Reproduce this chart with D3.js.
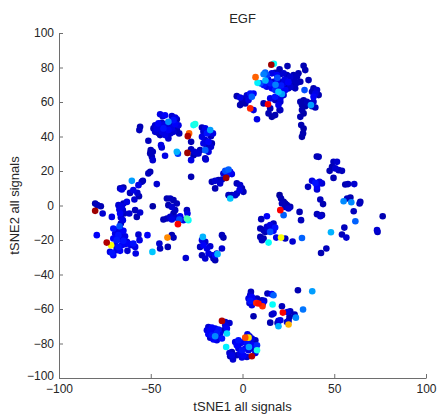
<!DOCTYPE html>
<html>
<head>
<meta charset="utf-8">
<script src="https://cdn.jsdelivr.net/npm/d3@7"></script>
<style>
  body { margin: 0; background: #fff; }
  svg text { font-family: "Liberation Sans", Arial, sans-serif; fill: #262626; }
</style>
</head>
<body>
<div id="chart"></div>
<script>
// tSNE coordinates per island, [tsne1, tsne2, signal]
var clusterA = [[15.7,81.6,0.97],[17.1,82.2,0.38],[24.5,80.8,0.05],[20.2,78.9,0.05],[33.3,81,0.05],[34.2,78.5,0.05],[7.1,74.4,0.78],
  [12.4,77.1,0.22],[13.3,75.6,0.18],[11.5,76.1,0.25],
  [16,76.6,0.1],[17.8,76.9,0.06],[18.8,75.6,0.12],[20.6,76.1,0.06],[22.4,76.6,0.08],[24.2,75.6,0.05],[26,74.6,0.08],[27.8,75.6,0.05],[29.7,74.6,0.06],[30.5,76.6,0.05],
  [8.2,71.1,0.36],[14,73,0.1],[19,74,0.2],[23,73,0.1],[28,72.5,0.06],[25,71.5,0.12],[21,69.5,0.15],[18,70,0.25],[12.5,72.5,0.3],
  [9.7,70.8,0.2],[11.5,69.8,0.14],[13.3,68.8,0.1],[15.1,70.8,0.15],[16.9,71.7,0.08],[18.8,72.7,0.12],[20.6,71.7,0.06],[22.4,70.8,0.1],[24.2,69.8,0.05],[26,68.8,0.08],[27.8,69.8,0.05],[29.7,71.1,0.06],[31.5,71.7,0.05],
  [36,72.7,0.05],
  [16,67.9,0.12],[17.8,66.9,0.16],[19.6,68.8,0.1],[21.5,67.9,0.08],[23.3,66.9,0.12],[25.1,67.9,0.06],[27,68.8,0.05],[28.7,67.9,0.06],
  [19.6,65.9,0.32],[21.5,64.6,0.28],[17.8,63,0.14],[20.6,62.1,0.1],[22.4,64,0.08],
  [33.8,66.9,0.2],
  [38.7,67.9,0.05],[40.6,66.9,0.08],[39.7,64.9,0.1],[37.9,65.9,0.06],[41.5,64,0.05],[38.7,63,0.12],
  [31.5,60.1,0.05],[33.3,61,0.04],[35.1,60.1,0.06],[36.9,59.2,0.05],[38.7,60.1,0.08],[32.4,58.2,0.05],[34.2,57.6,0.04],[36,58.7,0.06],[37.9,57.6,0.05],[39.7,56.8,0.06],
  [37.3,58.2,0.28],
  [32.4,55.3,0.05],[33.3,53.4,0.04],[31.5,51.4,0.05],
  [32,46.6,0.05],[33.3,44.6,0.04],[33,41.8,0.05],[32.4,39.8,0.04],
  [-3.1,63.4,0.05],[-1.3,62.6,0.1],[0.5,62,0.06],[-0.3,60.1,0.05],[2.4,63.9,0.08],[4.2,64.9,0.14],[6,64.9,0.12],[5.1,63,0.22],[3.3,61.1,0.1],[1.5,59.2,0.05],[-1.3,58.2,0.05],
  [13.9,58.7,0.88],[4.2,56.3,0.84],[6,55.3,0.1],[7.9,50,0.1],
  [11.5,59.2,0.05],[15.1,62.1,0.1],[17.8,61.1,0.06],[20.6,60.1,0.08],[19.6,58.2,0.1],[20.2,55.3,0.05],[15.1,56.3,0.05],[14.2,53.4,0.05],[16,51.4,0.04],[17.8,52.4,0.05],[20.6,55.3,0.06]];

var clusterB = [[-44.9,52.9,0.1],[-43.5,51.8,0.08],[-42.2,52.3,0.12],
  [-38.5,51.8,0.08],[-36.7,51,0.1],[-35.8,49.9,0.06],[-37.6,49.5,0.14],[-40.4,48.5,0.26],
  [-47.6,46.5,0.08],[-45.8,47.6,0.12],[-44,47.9,0.06],[-42.2,47.2,0.1],[-39.4,46.5,0.08],[-36.7,47.2,0.12],[-34.9,46.5,0.1],
  [-48.5,44.7,0.06],[-46.7,44.7,0.1],[-44.9,45.2,0.08],[-43.1,44.7,0.14],[-41.2,45.6,0.06],[-38.5,44.7,0.1],[-35.8,44.1,0.06],
  [-47.6,42.7,0.08],[-45.8,42.1,0.05],[-44,42.7,0.1],[-42.2,43.3,0.06],[-40.4,43.7,0.12],[-37.6,42.7,0.08],
  [-44.9,40.8,0.06],[-42.2,40.8,0.1],[-34.5,41.8,0.06],[-39.4,41.8,0.08],
  [-55.8,45.6,0.05],[-56.2,43.7,0.06],
  [-40.4,38.9,0.08],[-51.3,37.5,0.06],[-44.4,35,0.1],[-44,33.6,0.08],
  [-50,32.1,0.05],[-48.9,31.1,0.06],[-50.3,30.2,0.05],[-49.4,28.2,0.06],[-48.9,26.3,0.08],
  [-42.2,28.8,0.1],[-35.8,31.1,0.3],[-35.2,30,0.18],[-30,30.5,0.97],
  [-28,32.6,0.06],[-26.2,31.1,0.08],[-26.7,29.2,0.05],[-28,26.3,0.1],[-25.4,30.2,0.06],[-20,26.7,0.08],
  [-26.7,46.6,0.38],[-25.8,47.2,0.4],[-29.1,41.8,0.78],[-29.8,40.2,0.95],[-28,36.9,0.05],
  [-22.1,45.2,0.06],[-20.3,44.7,0.1],[-17.6,43.7,0.28],[-16.1,41.8,0.1],[-21.3,42.7,0.08],[-19.4,41.8,0.14],[-17.2,40.2,0.06],[-22.1,39.8,0.1],[-20.3,37.9,0.08],[-18.5,36.9,0.12],[-16.7,36,0.05],[-21.3,36,0.1],[-19.4,34,0.06],[-17.2,34,0.08],[-20.3,32.1,0.22],[-18.5,31.1,0.1],[-23.1,32.1,0.06],[-24,30.2,0.08],[-20.3,27.3,0.06],
  [-51.3,18.6,0.06],[-50.3,19.5,0.05],[-54.3,14.3,0.06],[-46.7,12.4,0.08],[-28,16.6,0.05],[-60.3,14.3,0.28],[-66.7,9.9,0.06],[-64.9,10.4,0.05]];

var clusterC = [[-80.3,1.2,0.05],[-79.1,0.2,0.06],[-77.2,-0.4,0.05],[-80.3,-3.1,0.97],[-76.2,-4.6,0.08],
  [-65.8,9.3,0.1],[-59.5,8.9,0.1],[-61.3,7.3,0.06],[-57.3,7.3,0.08],[-56.4,5.4,0.05],[-58.9,3.5,0.08],[-54.9,13.7,0.06],[-56.7,11.8,0.1],
  [-67.6,0.2,0.08],[-65.8,-0.4,0.1],[-64.9,1.2,0.06],[-67.1,-2.3,0.1],[-65.2,-2.7,0.08],[-66.7,-4.6,0.12],[-64.5,-4.6,0.06],[-66.3,-7,0.08],[-65.2,-8.5,0.1],[-66.3,-10.4,0.06],
  [-71.2,-6.6,0.1],[-61.7,-4.6,0.08],[-58.5,-2.7,0.06],[-55.8,-4.1,0.08],[-57.6,-6.6,0.05],[-48.9,-0.4,0.04],[-63,2.1,0.1],
  [-70.4,-13.3,0.14],[-68.5,-14.3,0.1],[-66.7,-13.3,0.08],[-64.9,-14.7,0.12],[-69.4,-16.2,0.1],[-67.6,-17.2,0.14],[-65.8,-16.6,0.08],[-64,-17.8,0.1],[-70.4,-19.1,0.12],[-68.5,-20.1,0.15],[-66.7,-19.7,0.1],[-64.9,-20.5,0.14],[-63,-21.1,0.08],[-69.4,-23,0.1],[-67.6,-24,0.14],[-65.8,-23,0.12],[-64,-22.4,0.1],[-68.7,-25.9,0.1],[-66.7,-26.3,0.12],[-71.1,-27.5,0.14],[-72.2,-26.9,0.1],[-70.4,-28.8,0.12],
  [-62.2,-22,0.12],[-60.9,-23,0.1],[-59.5,-22,0.14],[-58.5,-24,0.1],[-62.7,-26.3,0.08],[-58.2,-27.8,0.1],
  [-56.7,-16.9,0.08],[-56.1,-20.1,0.1],[-51.8,-17.2,0.12],[-79.4,-17.2,0.12],
  [-74,-21.5,0.95],[-71.6,-23,0.62],[-67,-12,0.2]];

var clusterD = [[-41.2,4.1,0.05],[-39.4,4.1,0.06],[-37.6,3.1,0.05],[-35.8,1.2,0.06],[-40.4,0.2,0.05],[-38.5,-0.8,0.08],[-36.7,-2.7,0.06],[-37.6,-4.6,0.05],[-39.4,-6.6,0.08],
  [-43.1,-8.1,0.05],[-41.2,-7.5,0.06],[-38.5,-8.1,0.1],[-36.2,-7,0.08],[-34,-6.2,0.12],[-34.4,-8.1,0.2],[-32.2,-8.5,0.1],
  [-30.3,-2.7,0.06],[-30,-4.6,0.1],[-30.3,-7.5,0.45],[-29.5,-8.5,0.38],[-35.2,-10.8,0.88],
  [-40.9,-18.6,0.74],[-38.5,-17.2,0.05],[-37.6,-18.6,0.06],[-45.3,-22,0.08],[-44.9,-24.9,0.06],[-40.7,-24,0.05],[-49.1,-26.9,0.32],[-30.9,-30.4,0.08]];

var clusterE = [[-21.6,-18.2,0.3],[-22.1,-20.1,0.1],[-20.3,-21.1,0.08],[-21.3,-23,0.12],[-23.1,-24,0.06],[-19.4,-24.9,0.1],[-17.6,-23.6,0.08],
  [-11.2,-17.2,0.06],[-10.4,-18.6,0.05],[-11.2,-24.9,0.08],
  [-22.1,-28.8,0.06],[-20.3,-30.7,0.08],[-18.5,-27.8,0.1],[-16.7,-28.8,0.06],[-14.9,-28.8,0.12],[-14,-27.8,0.08],[-15.8,-30.7,0.06],[-14.9,-31.7,0.05],[-13.6,-28.2,0.3]];

var clusterF = [[-9.4,20.1,0.2],[-7.6,20.9,0.22],[-6.7,19.5,0.12],[-5.8,18.2,0.1],[-10.4,18.5,0.08],[-8.5,17.6,0.14],[-8.9,16,0.97],
  [-16.7,13.7,0.06],[-14.9,14.3,0.08],[-13.1,14.7,0.05],[-11.2,15.1,0.06],[-12.2,12.8,0.08],[-14.9,9.9,0.05],
  [-3.1,12.8,0.06],[-1.3,11.8,0.08],[-0.3,9.9,0.05],[0.5,7.9,0.06],[-1.6,8.9,0.1],
  [-7.6,6,0.06],[-5.8,6,0.05],[-4,6,0.08],[-3.1,7,0.06],[-6.7,4.1,0.32]];

var clusterG = [[20.2,6,0.03],[21,4.1,0.05],[22.4,2.1,0.04],[21.5,1.2,0.06],[23.3,1.2,0.05],[24.2,0.2,0.05],[25.1,-1.7,0.08],[23.3,-0.8,0.06],[26,-0.8,0.05],
  [20.6,-2.7,0.88],[22.4,-5.6,0.22],[31.1,-3.7,0.05],[31.9,-8.5,0.06],[13.3,-6.2,0.12],[10.2,-7.9,0.06],
  [9.7,-13.3,0.05],[11.5,-14.3,0.06],[13.3,-12.4,0.08],[15.1,-11.4,0.1],[16.9,-10.5,0.06],[17.8,-12.8,0.14],[16,-13.3,0.1],[14.2,-14.3,0.08],[12.4,-15.3,0.05],[16.9,-14.7,0.12],[15.1,-15.3,0.2],
  [9.7,-18.2,0.05],[10.6,-20.1,0.06],[11.5,-19.1,0.05],
  [14.2,-21.5,0.38],[18.4,-18.6,0.1],[21,-18.6,0.62],[23.3,-19.1,0.06],[27.3,-20.9,0.08],[32.4,-18.8,0.22]];

var clusterH = [[41.5,28.2,0.06],[40.5,28.4,0.05],
  [49.6,25.3,0.06],[51.5,25.3,0.08],[48.8,22.4,0.05],[50.6,21.5,0.08],[52.4,20.5,0.06],[47.5,20.1,0.05],[54.2,20.1,0.06],[49.6,16,0.05],
  [37.9,14.3,0.1],[39.7,13.1,0.14],[42,13.7,0.1],[43.3,12.8,0.08],[35.7,10.8,0.06],[40.6,9.3,0.08],[40.6,10.8,0.12],
  [56,12.2,0.05],[57.5,12.4,0.06],[60.9,12.4,0.08],[42.4,3.5,0.06],[43.9,0.8,0.05],
  [55.1,2.5,0.26],[59.3,1.9,0.26],[57,4.1,0.06],[58.8,4.6,0.05],[63.8,1.2,0.06],[64.2,2.1,0.05],
  [60.6,-3.3,0.06],[76.4,-6.2,0.05],[40.6,-5,0.06],[42.4,-6.2,0.08],[43.3,-5.6,0.05],
  [61.5,-9.1,0.22],[55.5,-12.8,0.06],[48.2,-15.5,0.3],[54.2,-16.8,0.06],[56.6,-18.6,0.08],
  [73.3,-14.3,0.08],[73.6,-15.3,0.06],[45.7,-24.9,0.06],[42.8,-27.5,0.05]];

var clusterI = [[4.6,-50.1,0.06],[4.2,-52,0.08],[5.1,-53,0.12],[3.3,-53.9,0.1],[4.2,-55.3,0.14],[3.8,-56.5,0.08],[6,-54.9,0.1],[7.9,-53.9,0.06],[7,-55.9,0.12],[5.1,-57.8,0.1],
  [10.6,-54.9,0.05],[11.8,-55.3,0.08],[11.1,-56.8,0.12],[13.6,-51,0.06],[16,-51.4,0.12],[16.9,-52,0.22],
  [7.5,-56.5,0.84],[8.7,-56.8,0.86],[10.9,-58.4,0.83],[16.4,-57.4,0.38],
  [6,-64.2,0.05],[21.5,-58.4,0.06],[22,-62.1,0.88],[24.5,-61.7,0.1],[26,-61.3,0.06],[16.9,-62.6,0.08],[16,-63.2,0.06],
  [15.1,-67.9,0.05],[19.6,-66.9,0.08],[19.1,-68.1,0.06],[20.6,-66.5,0.1],
  [25.6,-64.6,0.05],[25.1,-66.9,0.06],[24.2,-67.5,0.08],[28.4,-63.2,0.06],[29.1,-65,0.26],
  [19.6,-70,0.3],[25.1,-69,0.7],[30.2,-49.1,0.05],[38,-49.7,0.28],[33,-60.3,0.24]];

var clusterJ = [[-18.6,-70.4,0.08],[-16.7,-70.8,0.12],[-14.9,-71.4,0.1],[-13.1,-71.9,0.14],[-19.4,-72.3,0.1],[-17.6,-72.7,0.12],[-15.8,-73.3,0.08],[-14,-73.9,0.15],[-12.2,-74.2,0.1],[-18.6,-74.6,0.12],[-16.7,-75.2,0.14],[-14.9,-75.8,0.26],[-13.1,-76.2,0.1],[-15.8,-77.7,0.12],[-14,-78.1,0.1],[-11.2,-77.1,0.14],[-17.6,-76.6,0.08],[-10.4,-72.3,0.06],
  [-11.2,-66.9,0.95],[-9.4,-67.5,0.08],[-8.2,-68.4,0.06],[-7.1,-68.1,0.08],[-9.4,-69.4,0.1],[-8.5,-71.3,0.12],[-8.5,-74.2,0.34],[-8.9,-82,0.36],
  [-5.8,-84.9,0.06],[-7.1,-85.5,0.08],[-6.7,-87.4,0.05],[-5.2,-89.3,0.08],[-5.8,-86.8,0.1],
  [-4,-79.1,0.1],[-2.2,-78.1,0.14],[-3.1,-81,0.12],[-1.3,-80,0.1],[0.5,-79.1,0.12],[2.4,-80,0.14],[4.2,-79.1,0.1],[6,-81,0.12],[7.9,-81,0.16],[-2.2,-82.9,0.1],[-0.3,-83.9,0.14],[1.5,-82.9,0.12],[3.3,-83.9,0.1],[5.1,-82.9,0.08],[-1.3,-85.8,0.1],[0.5,-86.8,0.12],[-3.1,-86.8,0.06],[-0.3,-88.1,0.1],[2.4,-87.8,0.08],[3.5,-82,0.28],
  [2.7,-74.7,0.1],[3.8,-75.8,0.08],[1.5,-76.6,0.8],[3.3,-76.6,0.65],[5.1,-77.1,0.1],[7,-78.1,0.06],[7.9,-83.9,0.4],[5.1,-87.4,0.95],[7,-85.5,0.1]];

var xTicks = [-100, -50, 0, 50, 100];
var yTicks = [-100, -80, -60, -40, -20, 0, 20, 40, 60, 80, 100];
var jetStops = [0, 0.125, 0.375, 0.625, 0.875, 1];
var jetColors = ["#00007f", "#0000ff", "#00ffff", "#ffff00", "#ff0000", "#7f0000"];

var width = 438, height = 420;
var margin = {left: 59, top: 33, right: 12, bottom: 42};
var w = width - margin.left - margin.right;
var h = height - margin.top - margin.bottom;

var points = [].concat(clusterA, clusterB, clusterC, clusterD, clusterE, clusterF, clusterG, clusterH, clusterI, clusterJ)
  .map(function(d) { return {x: d[0], y: d[1], c: d[2]}; });
points.sort(function(a, b) { return a.c - b.c; });

var x = d3.scaleLinear().domain([-100, 100]).range([0, w]);
var y = d3.scaleLinear().domain([-100, 100]).range([h, 0]);
var color = d3.scaleLinear().domain(jetStops).range(jetColors);

var svg = d3.select("#chart").append("svg")
  .attr("width", width)
  .attr("height", height);

var g = svg.append("g")
  .attr("transform", "translate(" + margin.left + "," + margin.top + ")");

g.selectAll("circle")
  .data(points)
  .enter()
  .append("circle")
  .attr("cx", function(d) { return x(d.x); })
  .attr("cy", function(d) { return y(d.y); })
  .attr("r", 3.3)
  .attr("fill", function(d) { return color(d.c); });

// matlab style: box off, ticks pointing in
var xAxis = g.append("g")
  .attr("transform", "translate(0," + h + ")")
  .call(d3.axisBottom(x).tickValues(xTicks).tickSize(-4).tickSizeOuter(0).tickPadding(6));
var yAxis = g.append("g")
  .call(d3.axisLeft(y).tickValues(yTicks).tickSize(-4).tickSizeOuter(0).tickPadding(5));

[xAxis, yAxis].forEach(function(a) {
  a.selectAll("path, line").attr("stroke", "#6e6e6e");
  a.selectAll("text").style("font-size", "12px").attr("fill", "#262626")
    .style("font-family", "'Liberation Sans', Arial, sans-serif");
});
// lift the lowest y label a touch so it clears the x labels
yAxis.selectAll(".tick text").filter(function(d) { return d === -100; }).attr("dy", "0.1em");

svg.append("text")
  .attr("x", margin.left + w / 2)
  .attr("y", 23)
  .attr("text-anchor", "middle")
  .style("font-size", "13px")
  .text("EGF");

svg.append("text")
  .attr("x", margin.left + w / 2)
  .attr("y", 411)
  .attr("text-anchor", "middle")
  .style("font-size", "13px")
  .text("tSNE1 all signals");

svg.append("text")
  .attr("transform", "translate(19," + (margin.top + h / 2) + ") rotate(-90)")
  .attr("text-anchor", "middle")
  .style("font-size", "13px")
  .text("tSNE2 all signals");
</script>
</body>
</html>
